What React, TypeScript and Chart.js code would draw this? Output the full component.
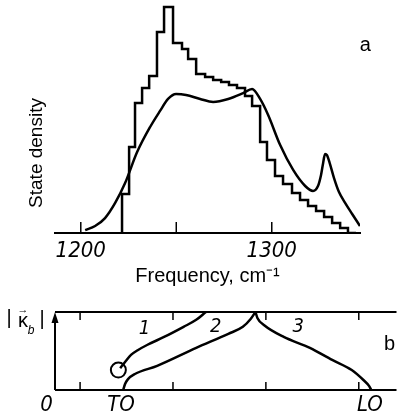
import React, { useEffect, useRef } from 'react';
import { Chart, registerables } from 'chart.js';

Chart.register(...registerables);

// ---------- Panel a data ----------
const tickValues = [1200, 1250, 1300];
const tickLabels = ['1200', '', '1300'];

// histogram bin edges (cm^-1) and heights (relative state density)
const histEdges = [
  1221.6, 1225.3, 1228.4, 1232.1, 1235.8, 1239.9, 1243.6, 1248.3, 1253.0, 1256.2,
  1260.4, 1265.1, 1269.3, 1273.5, 1277.6, 1281.8, 1286.0, 1289.7, 1293.9, 1297.5,
  1301.7, 1305.9, 1310.6, 1314.8, 1319.0, 1323.2, 1327.4, 1331.6, 1335.8, 1339.9, 1344.1,
];
const histHeights = [
  3.5, 17.3, 38.1, 57.5, 64.2, 69.5, 88.9, 100, 84.1, 81.4,
  77.0, 70.4, 69.0, 67.7, 66.8, 65.5, 64.2, 60.6, 56.2, 40.3,
  32.3, 25.2, 21.7, 17.7, 14.6, 11.9, 9.7, 7.1, 4.4, 2.2,
];

// smooth state-density curve
const dosFreq = [
  1202.3, 1207.5, 1212.7, 1218.0, 1223.2, 1229.5, 1236.3, 1241.5, 1245.7, 1249.9,
  1255.1, 1262.5, 1269.3, 1277.2, 1285.0, 1289.7, 1293.9, 1298.1, 1304.4, 1311.2,
  1317.5, 1321.6, 1324.2, 1325.8, 1326.9, 1327.9, 1328.9, 1330.5, 1332.6, 1335.2,
  1338.4, 1342.1, 1346.2,
];
const dosValue = [
  1.3, 3.1, 6.6, 13.3, 22.1, 35.8, 46.9, 54.0, 59.3, 61.5,
  61.1, 59.3, 58.0, 59.3, 61.9, 63.7, 59.3, 52.2, 38.9, 27.9,
  20.8, 18.6, 20.8, 25.7, 31.0, 35.0, 34.5, 30.5, 24.3, 18.1,
  13.3, 8.4, 3.1,
];

// ---------- Panel b data ----------
const bottomTickValues = [1200, 1250, 1300, 1350];
const bottomLabels = ['0', 'TO', 'LO'];
const bottomLabelFreq = [1182, 1222, 1356];

const branch1Freq = [1221.6, 1224.2, 1227.4, 1231.0, 1236.3, 1245.2, 1255.7, 1262.5, 1267.7];
const branch1K = [0.28, 0.36, 0.45, 0.51, 0.58, 0.68, 0.81, 0.9, 1.0];
const branch2Freq = [1223.2, 1224.2, 1225.8, 1229.5, 1241.5, 1262.5, 1279.8, 1287.6, 1291.8, 1294.4];
const branch2K = [0, 0.077, 0.14, 0.205, 0.31, 0.54, 0.72, 0.81, 0.91, 1.0];
const branch3Freq = [1294.4, 1295.5, 1299.1, 1309.6, 1323.7, 1335.7, 1346.2, 1352.5, 1355.6, 1356.7];
const branch3K = [1.0, 0.92, 0.83, 0.68, 0.54, 0.385, 0.256, 0.128, 0.05, 0];

const markerFreq = [1220.6];
const markerK = [0.256];

const branchLabels = ['1', '2', '3'];
const branchLabelFreq = [1234.7, 1273.0, 1317.4];
const branchLabelK = [0.79, 0.81, 0.81];

const NARROW = "'Liberation Sans Narrow', 'DejaVu Sans Condensed', 'Liberation Sans', sans-serif";
const SANS = "'Liberation Sans', Arial, sans-serif";

const toPoints = (xs: number[], ys: number[]) => xs.map((x, i) => ({ x, y: ys[i] }));

function histPoints() {
  const pts = [{ x: histEdges[0], y: 0 }];
  histHeights.forEach((h, i) => pts.push({ x: histEdges[i], y: h }));
  pts.push({ x: histEdges[histEdges.length - 1], y: 0 });
  return pts;
}

const topDecor = {
  id: 'topDecor',
  afterDraw(chart: any) {
    const { ctx, chartArea } = chart;
    const xs = chart.scales.x;
    const ys = chart.scales.y;
    ctx.save();
    ctx.strokeStyle = '#000';
    ctx.lineWidth = 1.5;
    tickValues.forEach((v) => {
      const px = xs.getPixelForValue(v);
      ctx.beginPath();
      ctx.moveTo(px, chartArea.bottom);
      ctx.lineTo(px, chartArea.bottom - 11);
      ctx.stroke();
    });
    ctx.fillStyle = '#000';
    ctx.textAlign = 'center';
    ctx.textBaseline = 'middle';
    ctx.font = `20px ${SANS}`;
    ctx.fillText('a', xs.getPixelForValue(1349), ys.getPixelForValue(83));
    ctx.translate(chartArea.left - 18, chartArea.bottom - 80);
    ctx.rotate(-Math.PI / 2);
    ctx.font = `19px ${SANS}`;
    ctx.fillText('State density', 0, 0);
    ctx.restore();
  },
};

const bottomDecor = {
  id: 'bottomDecor',
  afterDraw(chart: any) {
    const { ctx, chartArea } = chart;
    const xs = chart.scales.x;
    const ys = chart.scales.y;
    const { left, right, top, bottom } = chartArea;
    ctx.save();
    ctx.strokeStyle = '#000';
    ctx.fillStyle = '#000';
    ctx.lineWidth = 2;
    ctx.beginPath();
    ctx.moveTo(left, top);
    ctx.lineTo(right, top);
    ctx.moveTo(left, bottom);
    ctx.lineTo(right, bottom);
    ctx.moveTo(left, bottom);
    ctx.lineTo(left, top + 8);
    ctx.stroke();
    // arrow head
    ctx.beginPath();
    ctx.moveTo(left, top);
    ctx.lineTo(left - 3.5, top + 11);
    ctx.lineTo(left + 3.5, top + 11);
    ctx.closePath();
    ctx.fill();
    ctx.lineWidth = 1.5;
    bottomTickValues.forEach((v) => {
      const px = xs.getPixelForValue(v);
      ctx.beginPath();
      ctx.moveTo(px, top);
      ctx.lineTo(px, top + 8);
      ctx.moveTo(px, bottom);
      ctx.lineTo(px, bottom - 8);
      ctx.stroke();
    });
    ctx.textAlign = 'center';
    ctx.textBaseline = 'middle';
    ctx.font = `italic 22px ${NARROW}`;
    bottomLabels.forEach((t, i) => {
      ctx.fillText(t, xs.getPixelForValue(bottomLabelFreq[i]), bottom + 15);
    });
    ctx.font = `italic 20px ${NARROW}`;
    branchLabels.forEach((t, i) => {
      ctx.fillText(t, xs.getPixelForValue(branchLabelFreq[i]), ys.getPixelForValue(branchLabelK[i]));
    });
    ctx.font = `20px ${SANS}`;
    ctx.fillText('b', right - 7, ys.getPixelForValue(0.58));
    // |κ_b| label
    ctx.font = `20px ${SANS}`;
    ctx.fillText('|', 9, top + 6);
    ctx.fillText('κ', 23, top + 9);
    ctx.fillText('|', 42, top + 7);
    ctx.font = `italic 12px ${SANS}`;
    ctx.fillText('b', 31, top + 19);
    ctx.font = `11px ${SANS}`;
    ctx.fillText('→', 23, top - 2);
    ctx.restore();
  },
};

export default function App() {
  const topRef = useRef<HTMLCanvasElement>(null);
  const botRef = useRef<HTMLCanvasElement>(null);

  useEffect(() => {
    const top = new Chart(topRef.current as HTMLCanvasElement, {
      type: 'line',
      data: {
        datasets: [
          {
            data: histPoints(),
            stepped: 'after',
            borderColor: '#000',
            borderWidth: 2.5,
            pointRadius: 0,
            fill: false,
          },
          {
            data: toPoints(dosFreq, dosValue),
            cubicInterpolationMode: 'monotone',
            borderColor: '#000',
            borderWidth: 2.5,
            pointRadius: 0,
            fill: false,
          },
        ],
      },
      options: {
        animation: false,
        responsive: false,
        maintainAspectRatio: false,
        layout: { padding: { left: 55, right: 46, top: 2, bottom: 0 } },
        plugins: { legend: { display: false }, tooltip: { enabled: false } },
        scales: {
          x: {
            type: 'linear',
            min: 1186.5,
            max: 1346.2,
            position: 'bottom',
            afterBuildTicks: (s: any) => {
              s.ticks = tickValues.map((v) => ({ value: v }));
            },
            afterFit: (s: any) => {
              s.height = 57;
            },
            grid: { display: false, drawTicks: false },
            border: { display: true, color: '#000', width: 2 },
            ticks: {
              autoSkip: false,
              maxRotation: 0,
              padding: 5,
              color: '#000',
              font: { family: NARROW, size: 22, style: 'italic' },
              callback: (v: any) => {
                const i = tickValues.indexOf(Number(v));
                return i >= 0 ? tickLabels[i] : '';
              },
            },
            title: {
              display: true,
              text: 'Frequency, cm⁻¹',
              color: '#000',
              font: { family: SANS, size: 20 },
              padding: { top: 0, bottom: 2 },
            },
          },
          y: { display: false, min: 0, max: 102.2 },
        },
      },
      plugins: [topDecor],
    } as any);

    const bot = new Chart(botRef.current as HTMLCanvasElement, {
      type: 'line',
      data: {
        datasets: [
          { data: toPoints(branch1Freq, branch1K) },
          { data: toPoints(branch2Freq, branch2K) },
          { data: toPoints(branch3Freq, branch3K) },
        ].map((d) => ({
          ...d,
          cubicInterpolationMode: 'monotone',
          borderColor: '#000',
          borderWidth: 2.5,
          pointRadius: 0,
          fill: false,
          clip: false,
        })).concat([
          {
            data: toPoints(markerFreq, markerK),
            showLine: false,
            pointRadius: 7.5,
            pointBorderWidth: 2,
            pointBorderColor: '#000',
            pointBackgroundColor: 'rgba(0,0,0,0)',
            clip: false,
          } as any,
        ]),
      },
      options: {
        animation: false,
        responsive: false,
        maintainAspectRatio: false,
        layout: { padding: { left: 55, right: 0, top: 22, bottom: 28 } },
        plugins: { legend: { display: false }, tooltip: { enabled: false } },
        scales: {
          x: { type: 'linear', display: false, min: 1186.5, max: 1370.3 },
          y: { display: false, min: 0, max: 1 },
        },
      },
      plugins: [bottomDecor],
    } as any);

    return () => {
      top.destroy();
      bot.destroy();
    };
  }, []);

  return (
    <div style={{ position: 'absolute', left: 0, top: 0, width: 406, height: 418, background: '#fff' }}>
      <canvas
        ref={topRef}
        width={406}
        height={290}
        style={{ position: 'absolute', left: 0, top: 0, width: 406, height: 290 }}
      />
      <canvas
        ref={botRef}
        width={406}
        height={128}
        style={{ position: 'absolute', left: 0, top: 290, width: 406, height: 128 }}
      />
    </div>
  );
}
